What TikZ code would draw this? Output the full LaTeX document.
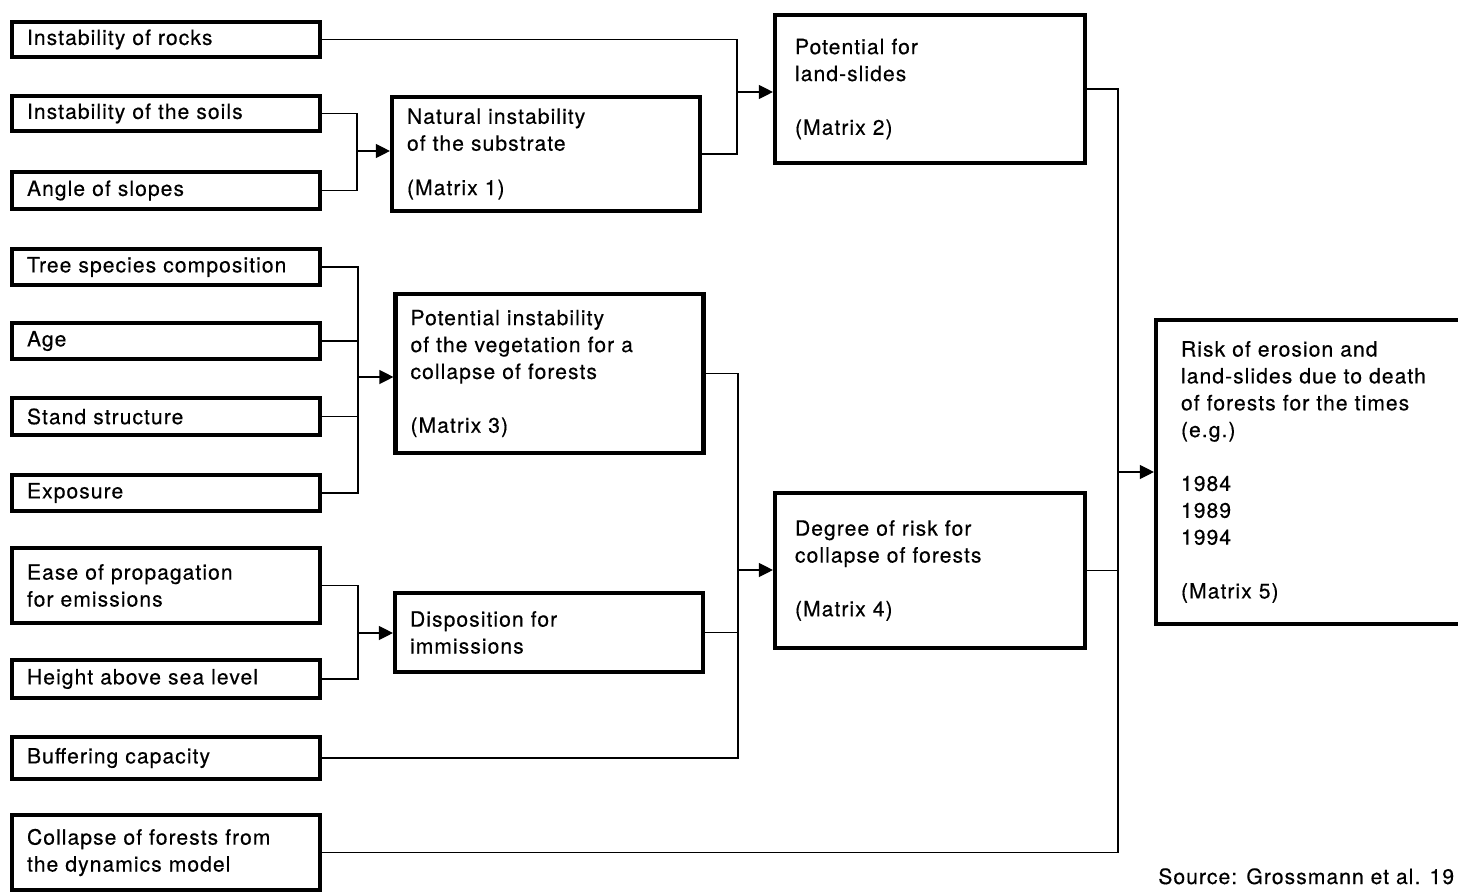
\documentclass[tikz,border=0pt]{standalone}
\usepackage{fontspec}
\setmainfont{TeX Gyre Heros}[LetterSpace=5, FakeBold=0.4]
\usetikzlibrary{arrows.meta}

\begin{document}
\begin{tikzpicture}[x=0.02cm, y=-0.02cm,
    box/.style={draw, line width=2.4pt, rectangle, align=left, inner xsep=0.3cm, inner ysep=0pt,
        font=\fontsize{12}{15.3}\selectfont},
    inbox/.style={box, text width=5.56cm},
    midbox/.style={box, text width=5.56cm},
    outbox/.style={box, inner xsep=0.4cm, text width=5.4cm},
    conn/.style={line width=0.7pt},
    >={Triangle[length=0.28cm, width=0.28cm]}]
    \clip (0,0) rectangle (1458,893);

    % inputs
    \node[inbox, minimum height=0.70cm] (rocks) at (166, 39.5) {Instability of rocks};
    \node[inbox, minimum height=0.70cm] (soils) at (166, 113.5) {Instability of the soils};
    \node[inbox, minimum height=0.74cm] (slopes) at (166, 190.5) {Angle of slopes};
    \node[inbox, minimum height=0.72cm] (tree) at (166, 267) {Tree species composition};
    \node[inbox, minimum height=0.72cm] (age) at (166, 341) {Age};
    \node[inbox, minimum height=0.74cm] (stand) at (166, 416.5) {Stand structure};
    \node[inbox, minimum height=0.72cm] (expo) at (166, 493) {Exposure};
    \node[inbox, minimum height=1.50cm] (ease) at (166, 585.5) {Ease of propagation\\for emissions};
    \node[inbox, minimum height=0.76cm] (height) at (166, 679) {Height above sea level};
    \node[inbox, minimum height=0.84cm] (buffer) at (166, 758) {Buffering capacity};
    \node[inbox, minimum height=1.50cm] (dyn) at (166, 852.5) {Collapse of forests from\\the dynamics model};

    % matrices
    \node[midbox, minimum height=2.28cm] (m1) at (546, 154) {Natural instability\\of the substrate\\[10pt](Matrix 1)};
    \node[midbox, minimum height=3.18cm] (m3) at (549.5, 373.5) {Potential instability\\of the vegetation for a\\collapse of forests\\[15.3pt](Matrix 3)};
    \node[midbox, minimum height=1.58cm] (disp) at (549, 632.5) {Disposition for\\immissions};
    \node[outbox, minimum height=2.96cm] (m2) at (930, 89) {Potential for\\land-slides\\[15.3pt](Matrix 2)};
    \node[outbox, minimum height=3.10cm] (m4) at (930, 570.5) {Degree of risk for\\collapse of forests\\[15.3pt](Matrix 4)};
    \node[box, inner xsep=0.5cm, text width=5.48cm, minimum height=6.08cm] (m5) at (1318, 472)
        {Risk of erosion and\\land-slides due to death\\of forests for the times\\(e.g.)\\[15.3pt]1984\\1989\\1994\\[15.3pt](Matrix 5)};

    \node[anchor=base west, inner sep=0pt, font=\fontsize{12}{15.3}\selectfont] (src) at (1158, 884) {Source: Grossmann et al. 19};

    % junctions
    \coordinate (j1) at (357, 151);
    \coordinate (j2) at (737, 92);
    \coordinate (j3) at (358, 377);
    \coordinate (j4) at (358, 633);
    \coordinate (j5) at (738, 570);
    \coordinate (j6) at (1118, 472);

    \draw[conn] (soils.east) -| (j1);
    \draw[conn] (slopes.east) -| (j1);
    \draw[conn, ->] (j1) -- (j1 -| m1.west);

    \draw[conn] (rocks.east) -| (j2);
    \draw[conn] (m1.east) -| (j2);
    \draw[conn, ->] (j2) -- (j2 -| m2.west);

    \draw[conn] (tree.east) -| (j3);
    \draw[conn] (age.east) -| (j3);
    \draw[conn] (stand.east) -| (j3);
    \draw[conn] (expo.east) -| (j3);
    \draw[conn, ->] (j3) -- (j3 -| m3.west);

    \draw[conn] (ease.east) -| (j4);
    \draw[conn] (height.east) -| (j4);
    \draw[conn, ->] (j4) -- (j4 -| disp.west);

    \draw[conn] (m3.east) -| (j5);
    \draw[conn] (disp.east) -| (j5);
    \draw[conn] (buffer.east) -| (j5);
    \draw[conn, ->] (j5) -- (j5 -| m4.west);

    \draw[conn] (m2.east) -| (j6);
    \draw[conn] (m4.east) -| (j6);
    \draw[conn] (dyn.east) -| (j6);
    \draw[conn, ->] (j6) -- (j6 -| m5.west);
\end{tikzpicture}
\end{document}
